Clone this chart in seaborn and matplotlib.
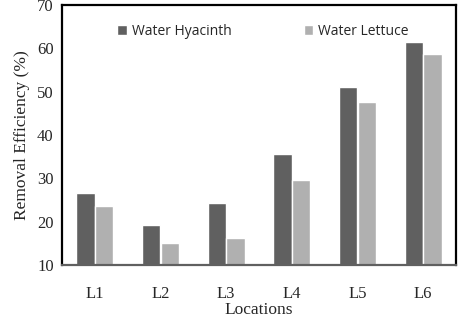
import numpy as np
import pandas as pd
import matplotlib.pyplot as plt
import seaborn as sns
from matplotlib.ticker import FixedLocator

# 数据
locations = ['L1', 'L2', 'L3', 'L4', 'L5', 'L6']
hyacinth = [26.6, 19.2, 24.4, 35.5, 51.1, 61.4]
lettuce = [23.5, 15.1, 16.3, 29.6, 47.6, 58.7]
series_names = ['Water Hyacinth', 'Water Lettuce']
y_ticks = [10, 20, 30, 40, 50, 60, 70]

df = pd.DataFrame({
    'location': locations * 2,
    'value': hyacinth + lettuce,
    'species': [series_names[0]] * len(locations) + [series_names[1]] * len(locations),
})

sns.set_style('white')
serif = ['Liberation Serif', 'DejaVu Serif']
sans = ['Open Sans', 'DejaVu Sans']

fig = plt.figure(figsize=(4.73, 3.24), dpi=100)
ax = fig.add_axes([0.131, 0.182, 0.833, 0.803])

sns.barplot(data=df, x='location', y='value', hue='species',
            palette=['#606060', '#b0b0b0'], width=0.57, gap=0.03,
            saturation=1, ax=ax, legend=True)

ax.set_ylim(10, 70)
ax.set_xlim(-0.5, len(locations) - 0.5)
ax.set_yticks(y_ticks)
ax.set_yticklabels([str(t) for t in y_ticks], family=serif, fontsize=12)
ax.set_xticklabels(locations, family=serif, fontsize=12)
ax.tick_params(axis='y', which='major', direction='out', length=4, width=1, color='black', pad=2)
ax.tick_params(axis='x', which='major', length=0, pad=15)
ax.xaxis.set_minor_locator(FixedLocator(np.arange(-0.5, len(locations), 1.0)))
ax.tick_params(axis='x', which='minor', direction='out', length=4, width=1, color='#808080')

ax.set_xlabel('Locations', family=serif, fontsize=12.5, labelpad=0)
ax.set_ylabel('Removal Efficiency (%)', family=serif, fontsize=12.5, labelpad=5)

for side in ['left', 'top', 'right']:
    ax.spines[side].set_color('black')
    ax.spines[side].set_linewidth(1.6)
ax.spines['bottom'].set_color('#606060')
ax.spines['bottom'].set_linewidth(1.6)

leg = ax.legend(loc='upper center', bbox_to_anchor=(0.51, 0.975), ncol=2, frameon=False,
                handlelength=0.7, handleheight=0.7, handletextpad=0.35, columnspacing=5.2,
                prop={'family': sans, 'size': 10})

fig.savefig('out.png', dpi=100)
